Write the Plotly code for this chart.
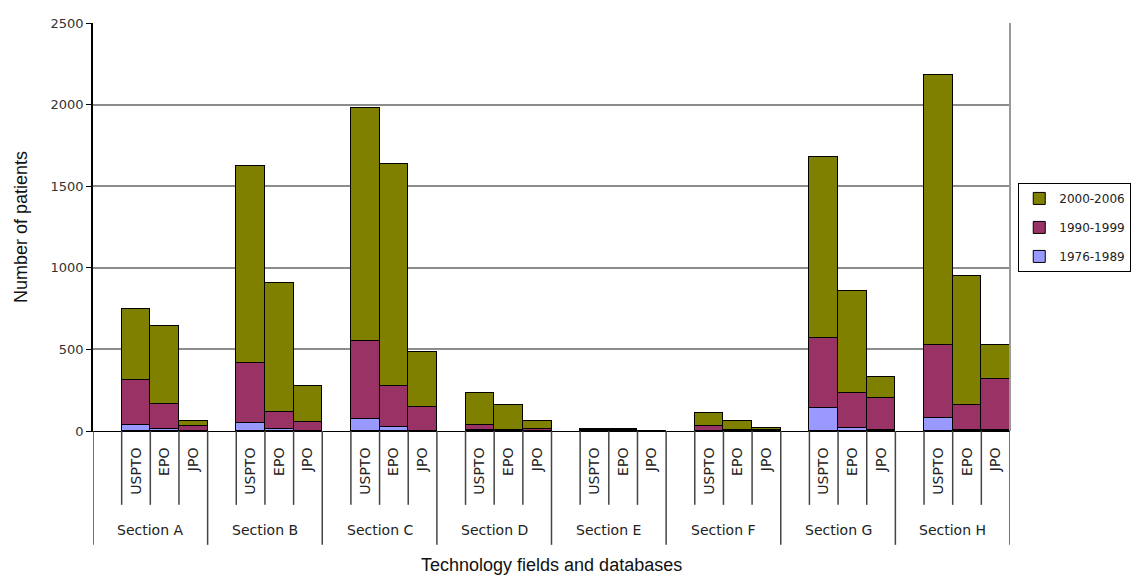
import plotly.graph_objects as go

sections = ["Section A", "Section B", "Section C", "Section D",
            "Section E", "Section F", "Section G", "Section H"]
offices = ["USPTO", "EPO", "JPO"]

# values per (section, office), in order A-USPTO, A-EPO, A-JPO, B-USPTO, ...
p1976_1989 = [35, 10, 3,   51, 10, 3,   75, 25, 3,   5, 1, 1,
              1, 1, 0,     3, 1, 1,     139, 20, 5,  78, 8, 8]
p1990_1999 = [275, 153, 27,  368, 108, 54,  477, 249, 144,  30, 4, 14,
              4, 3, 0,       25, 3, 5,      431, 215, 195,  448, 150, 309]
p2000_2006 = [440, 483, 31,  1204, 790, 219,  1426, 1361, 338,  197, 154, 46,
              10, 10, 1,     82, 57, 10,      1108, 621, 131,   1655, 790, 209]

series = [("1976-1989", p1976_1989, "#9999FF", 3),
          ("1990-1999", p1990_1999, "#993366", 2),
          ("2000-2006", p2000_2006, "#808000", 1)]

SLOTS = 4  # one empty slot + three offices per section
xpos = [s * SLOTS + 1 + k for s in range(len(sections)) for k in range(len(offices))]
xlabels = [o for s in sections for o in offices]

FONT = "DejaVu Sans"
fig = go.Figure()
for name, vals, col, rank in series:
    fig.add_trace(go.Bar(
        x=xpos, y=vals, name=name, legendgroup=name, legendrank=rank,
        marker=dict(color=col, line=dict(color="black", width=1)),
    ))

shapes = []
# short dividers between categories, long dividers between sections
for s in range(len(sections)):
    for k in range(1, SLOTS):
        xx = s * SLOTS + k - 0.5
        shapes.append(dict(type="line", xref="x", yref="paper", x0=xx, x1=xx,
                           y0=0, y1=-0.181, line=dict(color="#444", width=1.5)))
for s in range(len(sections) + 1):
    xx = s * SLOTS - 0.5
    shapes.append(dict(type="line", xref="x", yref="paper", x0=xx, x1=xx,
                       y0=0, y1=-0.279, line=dict(color="#444", width=1.5)))
# right border of plot area
shapes.append(dict(type="line", xref="paper", yref="paper", x0=1, x1=1, y0=0, y1=1,
                   line=dict(color="#999", width=2)))

annotations = []
for s, name in enumerate(sections):
    annotations.append(dict(x=s * SLOTS + 1.5, y=-0.243, xref="x", yref="paper",
                            yanchor="middle",
                            text=name, showarrow=False,
                            font=dict(family=FONT, size=14, color="#222")))
annotations.append(dict(x=0.5, y=-0.328, xref="paper", yref="paper", yanchor="middle",
                        text="Technology fields and databases", showarrow=False,
                        font=dict(family="Liberation Sans", size=18, color="#111")))

fig.update_layout(
    width=1132, height=576,
    margin=dict(l=93, r=122, t=23, b=145, autoexpand=False),
    barmode="stack", bargap=0,
    plot_bgcolor="white", paper_bgcolor="white",
    font=dict(family=FONT, size=12, color="#222"),
    shapes=shapes, annotations=annotations,
    xaxis=dict(range=[-0.5, len(sections) * SLOTS - 0.5],
               tickvals=xpos, ticktext=xlabels, tickangle=-90,
               ticks="", ticklabelstandoff=10,
               tickfont=dict(family=FONT, size=14, color="#222"),
               showline=True, linecolor="black", linewidth=1,
               showgrid=False, zeroline=False),
    yaxis=dict(range=[0, 2500], tickvals=[0, 500, 1000, 1500, 2000, 2500],
               ticks="outside", ticklen=5, tickcolor="black",
               tickfont=dict(family=FONT, size=13, color="#333"),
               showline=True, linecolor="black", linewidth=1.5,
               showgrid=True, gridcolor="#8c8c8c", gridwidth=2,
               zeroline=False,
               title=dict(text="Number of patients",
                          font=dict(family="Liberation Sans", size=18, color="#111"),
                          standoff=18)),
    legend=dict(x=1.009, xanchor="left", y=0.608, yanchor="top",
                traceorder="grouped", tracegroupgap=10,
                bordercolor="black", borderwidth=1,
                font=dict(family=FONT, size=12, color="#222")),
)

fig.write_html("out.html")
